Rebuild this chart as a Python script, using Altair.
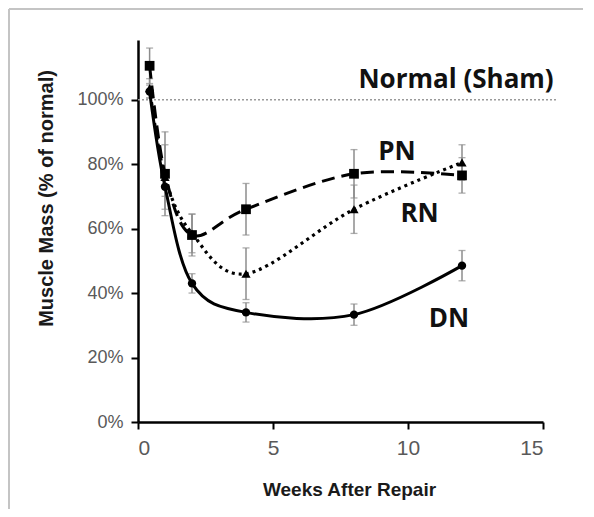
import altair as alt
import pandas as pd

# ---- data ----
weeks = [0.43, 1, 2, 4, 8, 12]
dn = [1.025, 0.73, 0.43, 0.34, 0.333, 0.485]
dn_err = [0.02, 0.03, 0.03, 0.03, 0.033, 0.047]
pn = [1.105, 0.77, 0.58, 0.66, 0.77, 0.765]
pn_err = [0.055, 0.13, 0.065, 0.08, 0.075, 0.055]
rn = [1.035, 0.76, 0.585, 0.46, 0.66, 0.805]
rn_err = [0.03, 0.10, 0.06, 0.08, 0.075, 0.055]

sham_level = 1.0
sham_x = [0, 15.5]

label_text = ["Normal (Sham)", "PN", "RN", "DN"]
label_x = [11.78, 9.59, 10.43, 11.52]
label_y = [1.037, 0.814, 0.621, 0.295]

x_ticks = [0, 5, 10, 15]
y_ticks = [0, 0.2, 0.4, 0.6, 0.8, 1.0]

rows = []
for name, vals, errs in [("DN", dn, dn_err), ("PN", pn, pn_err), ("RN", rn, rn_err)]:
    for w, v, e in zip(weeks, vals, errs):
        rows.append({"series": name, "week": w, "value": v, "lo": v - e, "hi": v + e})
df = pd.DataFrame(rows)
labels_df = pd.DataFrame({"text": label_text, "week": label_x, "value": label_y})
sham_df = pd.DataFrame({"x": [sham_x[0]], "x2": [sham_x[1]], "y": [sham_level]})

xscale = alt.Scale(domain=[0, 15], nice=False, zero=False)
yscale = alt.Scale(domain=[0, 1.185], nice=False, zero=True)

common_axis = dict(grid=False, domainColor="black", domainWidth=2.5, tickColor="black",
                   tickWidth=2, tickSize=7, labelColor="#595959", labelFont="Liberation Sans",
                   titleFont="Liberation Sans", titleFontWeight="bold", titleColor="#1a1a1a")

xaxis = alt.Axis(values=x_ticks, title="Weeks After Repair", labelFontSize=21,
                 labelPadding=8, titleX=211, titleY=67, titleBaseline="middle",
                 titleAlign="center", titleFontSize=19, **common_axis)
yaxis = alt.Axis(values=y_ticks, format=".0%", title="Muscle  Mass (% of normal)",
                 labelFontSize=18, labelPadding=8, titleX=-92, titleY=158,
                 titleAlign="center", titleBaseline="middle", titleFontSize=20, **common_axis)

X = alt.X("week:Q", scale=xscale, axis=xaxis)
Y = alt.Y("value:Q", scale=yscale, axis=yaxis)

base = alt.Chart(df)

# light frame of the original picture (left and top edges)
frame_left = alt.Chart(sham_df).mark_rule(color="#c4c4c4", strokeWidth=2).encode(
    x=alt.value(-129), y=alt.value(-31), y2=alt.value(470)
)
frame_top = alt.Chart(sham_df).mark_rule(color="#c4c4c4", strokeWidth=2).encode(
    x=alt.value(-129), x2=alt.value(445), y=alt.value(-31)
)

sham = alt.Chart(sham_df).mark_rule(color="#9a9a9a", strokeWidth=1.5, strokeDash=[2, 2]).encode(
    x=alt.X("x:Q", scale=xscale, axis=xaxis), x2="x2:Q", y=alt.Y("y:Q", scale=yscale, axis=yaxis)
)

err_rules = base.mark_rule(color="#8c8c8c", strokeWidth=1.5).encode(
    x=X, y=alt.Y("lo:Q", scale=yscale, axis=yaxis), y2="hi:Q"
)
err_lo = base.mark_tick(color="#8c8c8c", thickness=1.3, size=7, orient="horizontal").encode(
    x=X, y=alt.Y("lo:Q", scale=yscale, axis=yaxis)
)
err_hi = base.mark_tick(color="#8c8c8c", thickness=1.3, size=7, orient="horizontal").encode(
    x=X, y=alt.Y("hi:Q", scale=yscale, axis=yaxis)
)

line_dn = base.transform_filter(alt.datum.series == "DN").mark_line(
    color="black", strokeWidth=3, interpolate="cardinal", tension=0
).encode(x=X, y=Y)
line_pn = base.transform_filter(alt.datum.series == "PN").mark_line(
    color="black", strokeWidth=3, strokeDash=[13, 7], interpolate="cardinal", tension=0
).encode(x=X, y=Y)
line_rn = base.transform_filter(alt.datum.series == "RN").mark_line(
    color="black", strokeWidth=3.2, strokeDash=[3, 4], interpolate="cardinal", tension=0
).encode(x=X, y=Y)

pts_dn = base.transform_filter(alt.datum.series == "DN").mark_point(
    shape="circle", filled=True, color="black", size=70, opacity=1
).encode(x=X, y=Y)
pts_pn = base.transform_filter(alt.datum.series == "PN").mark_point(
    shape="square", filled=True, color="black", size=95, opacity=1
).encode(x=X, y=Y)
pts_rn = base.transform_filter(alt.datum.series == "RN").mark_point(
    shape="triangle-up", filled=True, color="black", size=85, opacity=1
).encode(x=X, y=Y)

texts = alt.Chart(labels_df).mark_text(
    font="Open Sans", fontWeight="bold", fontSize=26, color="#111111",
    align="center", baseline="alphabetic"
).encode(x=alt.X("week:Q", scale=xscale, axis=xaxis),
         y=alt.Y("value:Q", scale=yscale, axis=yaxis), text="text:N")

chart = alt.layer(
    frame_left, frame_top, sham, err_rules, err_lo, err_hi, line_pn, line_rn, line_dn,
    pts_pn, pts_rn, pts_dn, texts
).properties(
    width=405, height=382,
    autosize=alt.AutoSizeParams(type="none"),
    padding={"left": 130, "top": 32, "right": 40, "bottom": 87},
    background="white",
).configure_view(stroke=None)

chart.save("out.html", embed_options={"renderer": "svg", "actions": False})
